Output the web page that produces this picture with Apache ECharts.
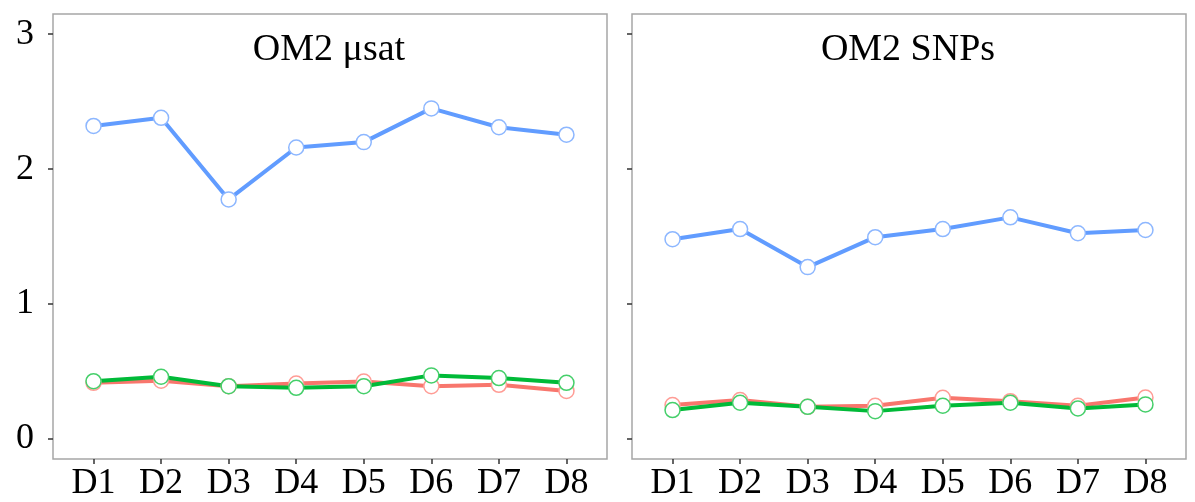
<!DOCTYPE html>
<html>
<head>
<meta charset="utf-8">
<script src="https://cdn.jsdelivr.net/npm/echarts@6/dist/echarts.min.js"></script>
<style>html,body{margin:0;padding:0;background:#fff}#c{width:1195px;height:502px}</style>
</head>
<body>
<div id="c"></div>
<script>
const categories = ['D1','D2','D3','D4','D5','D6','D7','D8'];
const panelTitles = ['OM2 \u03bcsat', 'OM2 SNPs'];
const yTicks = [0, 1, 2, 3];
// left panel (OM2 µsat)
const usatRed   = [0.415, 0.43, 0.39, 0.41, 0.425, 0.39, 0.40, 0.355];
const usatGreen = [0.427, 0.46, 0.39, 0.378, 0.39, 0.47, 0.45, 0.415];
const usatBlue  = [2.32, 2.38, 1.775, 2.16, 2.20, 2.45, 2.31, 2.255];
// right panel (OM2 SNPs)
const snpRed   = [0.25, 0.287, 0.237, 0.245, 0.304, 0.279, 0.245, 0.306];
const snpGreen = [0.213, 0.267, 0.237, 0.205, 0.245, 0.267, 0.225, 0.255];
const snpBlue  = [1.48, 1.555, 1.273, 1.495, 1.555, 1.642, 1.524, 1.548];

const FONT = 'Liberation Serif';
const xIdx = categories.map((c, i) => i + 1);
const pairs = vals => vals.map((v, i) => [i + 1, v]);

const colors = {
  red:   {line: '#F8766D', border: '#FF9C95'},
  green: {line: '#00BA38', border: '#45CF6A'},
  blue:  {line: '#619CFF', border: '#8DB7FF'}
};

function mkSeries(vals, col, idx) {
  return {
    type: 'line', xAxisIndex: idx, yAxisIndex: idx,
    data: pairs(vals),
    symbol: 'circle', symbolSize: 15,
    lineStyle: {color: col.line, width: 4},
    itemStyle: {color: '#fff', borderColor: col.border, borderWidth: 1.5},
    emphasis: {disabled: true},
    animation: false
  };
}

const grids = [
  {left: 53, top: 14, width: 554, height: 447, show: true, borderColor: '#a6a6a6', borderWidth: 1.5, backgroundColor: '#fff'},
  {left: 632, top: 14, width: 554, height: 447, show: true, borderColor: '#a6a6a6', borderWidth: 1.5, backgroundColor: '#fff'}
];

function mkX(idx) {
  return {
    type: 'value', gridIndex: idx, min: 0.4, max: 8.6,
    splitLine: {show: false},
    axisLine: {show: false, onZero: false},
    axisTick: {show: true, length: 5, customValues: xIdx, lineStyle: {color: '#333', width: 1.5}},
    axisLabel: {customValues: xIdx, formatter: v => categories[Math.round(v) - 1] || '', color: '#000',
      fontFamily: FONT, fontSize: 36, margin: 7}
  };
}
function mkY(idx) {
  return {
    type: 'value', gridIndex: idx, min: -0.15, max: 3.15,
    splitLine: {show: false},
    axisLine: {show: false, onZero: false},
    axisTick: {show: true, length: 5, customValues: yTicks, lineStyle: {color: '#333', width: 1.5}},
    axisLabel: {show: idx === 0, customValues: yTicks, color: '#000',
      fontFamily: FONT, fontSize: 36, margin: 19}
  };
}

const chart = echarts.init(document.getElementById('c'), null, {renderer: 'canvas'});
chart.setOption({
  backgroundColor: '#fff',
  animation: false,
  title: [
    {text: panelTitles[0], left: 324, top: 26, textAlign: 'center',
      textStyle: {fontFamily: FONT, fontSize: 38, fontWeight: 'normal', color: '#000'}},
    {text: panelTitles[1], left: 903, top: 26, textAlign: 'center',
      textStyle: {fontFamily: FONT, fontSize: 38, fontWeight: 'normal', color: '#000'}}
  ],
  grid: grids,
  xAxis: [mkX(0), mkX(1)],
  yAxis: [mkY(0), mkY(1)],
  series: [
    mkSeries(usatRed, colors.red, 0),
    mkSeries(usatGreen, colors.green, 0),
    mkSeries(usatBlue, colors.blue, 0),
    mkSeries(snpRed, colors.red, 1),
    mkSeries(snpGreen, colors.green, 1),
    mkSeries(snpBlue, colors.blue, 1)
  ]
});
</script>
</body>
</html>
